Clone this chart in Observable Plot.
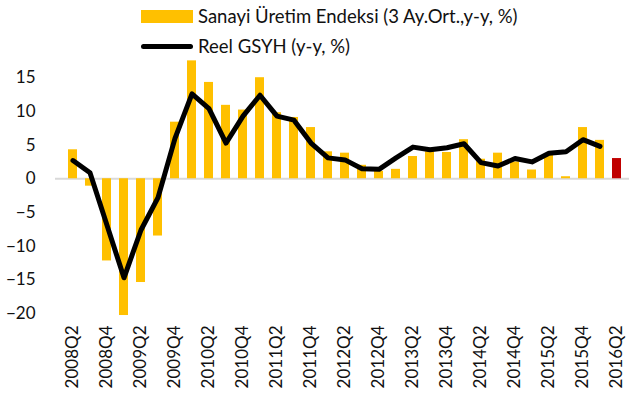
<!DOCTYPE html>
<html>
<head>
<meta charset="utf-8">
<script src="https://cdn.jsdelivr.net/npm/d3@7"></script>
<script src="https://cdn.jsdelivr.net/npm/@observablehq/plot@0.6"></script>
<style>
  html, body { margin: 0; padding: 0; background: #fff; overflow: hidden; }
  #wrap { position: relative; width: 629px; height: 403px; }
  #legend { position: absolute; left: 0; top: 0; font-family: Lato, "Open Sans", sans-serif; font-size: 18.5px; color: #111; }
  .row { position: absolute; left: 141px; display: flex; align-items: center; white-space: nowrap; }
  .sw-bar { width: 52px; height: 13px; background: #FFC000; margin-right: 5px; }
  .sw-line { width: 52px; height: 5px; background: #000; border-radius: 3px; margin-right: 5px; }
</style>
</head>
<body>
<div id="wrap">
  <div id="chart"></div>
  <div id="legend">
    <div class="row" style="top:5px;"><div class="sw-bar"></div><span id="l1"></span></div>
    <div class="row" style="top:35px;"><div class="sw-line"></div><span id="l2"></span></div>
  </div>
</div>
<script>
const quarters = ["2008Q2","2008Q3","2008Q4","2009Q1","2009Q2","2009Q3","2009Q4","2010Q1","2010Q2","2010Q3","2010Q4","2011Q1","2011Q2","2011Q3","2011Q4","2012Q1","2012Q2","2012Q3","2012Q4","2013Q1","2013Q2","2013Q3","2013Q4","2014Q1","2014Q2","2014Q3","2014Q4","2015Q1","2015Q2","2015Q3","2015Q4","2016Q1","2016Q2"];
const industrialProduction = [4.3, -1.1, -12.2, -20.3, -15.4, -8.5, 8.4, 17.5, 14.3, 10.9, 10.2, 15.0, 9.8, 9.1, 7.6, 4.0, 3.8, 2.0, 1.1, 1.4, 3.3, 4.0, 3.9, 5.8, 2.9, 3.8, 2.5, 1.3, 3.5, 0.3, 7.6, 5.7, 3.0];
const realGdp = [2.7, 0.9, -6.9, -14.7, -7.6, -2.8, 6.0, 12.6, 10.4, 5.3, 9.3, 12.4, 9.3, 8.7, 5.3, 3.1, 2.8, 1.5, 1.4, 3.1, 4.7, 4.3, 4.6, 5.2, 2.4, 1.9, 3.0, 2.5, 3.8, 4.0, 5.8, 4.8];
const xTickLabels = ["2008Q2","2008Q4","2009Q2","2009Q4","2010Q2","2010Q4","2011Q2","2011Q4","2012Q2","2012Q4","2013Q2","2013Q4","2014Q2","2014Q4","2015Q2","2015Q4","2016Q2"];
const yTicks = [-20, -15, -10, -5, 0, 5, 10, 15];
const seriesNames = ["Sanayi Üretim Endeksi (3 Ay.Ort.,y-y, %)", "Reel GSYH (y-y, %)"];
const highlightQuarter = "2016Q2";

document.getElementById("l1").textContent = seriesNames[0];
document.getElementById("l2").textContent = seriesNames[1];

const bars = quarters.map((q, i) => ({q, v: industrialProduction[i]}));
const line = realGdp.map((v, i) => ({q: quarters[i], v}));

const chart = Plot.plot({
  width: 629,
  height: 403,
  marginLeft: 55,
  marginRight: 0,
  marginTop: 57,
  marginBottom: 90,
  style: {fontFamily: "Lato, 'Open Sans', sans-serif", fontSize: "17px", color: "#111", background: "transparent", overflow: "visible"},
  x: {type: "band", domain: quarters, range: [55.75, 633.25], paddingInner: 0.486, paddingOuter: 0.243,
      ticks: xTickLabels, tickRotate: -90, tickSize: 0, tickPadding: 12, label: null},
  y: {domain: [-20, 18], ticks: yTicks, tickSize: 0, tickPadding: 20, label: null},
  marks: [
    Plot.ruleY([0], {stroke: "#D9D9D9", strokeWidth: 2}),
    Plot.barY(bars, {x: "q", y: "v", fill: d => d.q === highlightQuarter ? "#C00000" : "#FFC000"}),
    Plot.line(line, {x: "q", y: "v", stroke: "#000", strokeWidth: 5, strokeLinejoin: "round", strokeLinecap: "round"})
  ]
});
document.getElementById("chart").appendChild(chart);
</script>
</body>
</html>
